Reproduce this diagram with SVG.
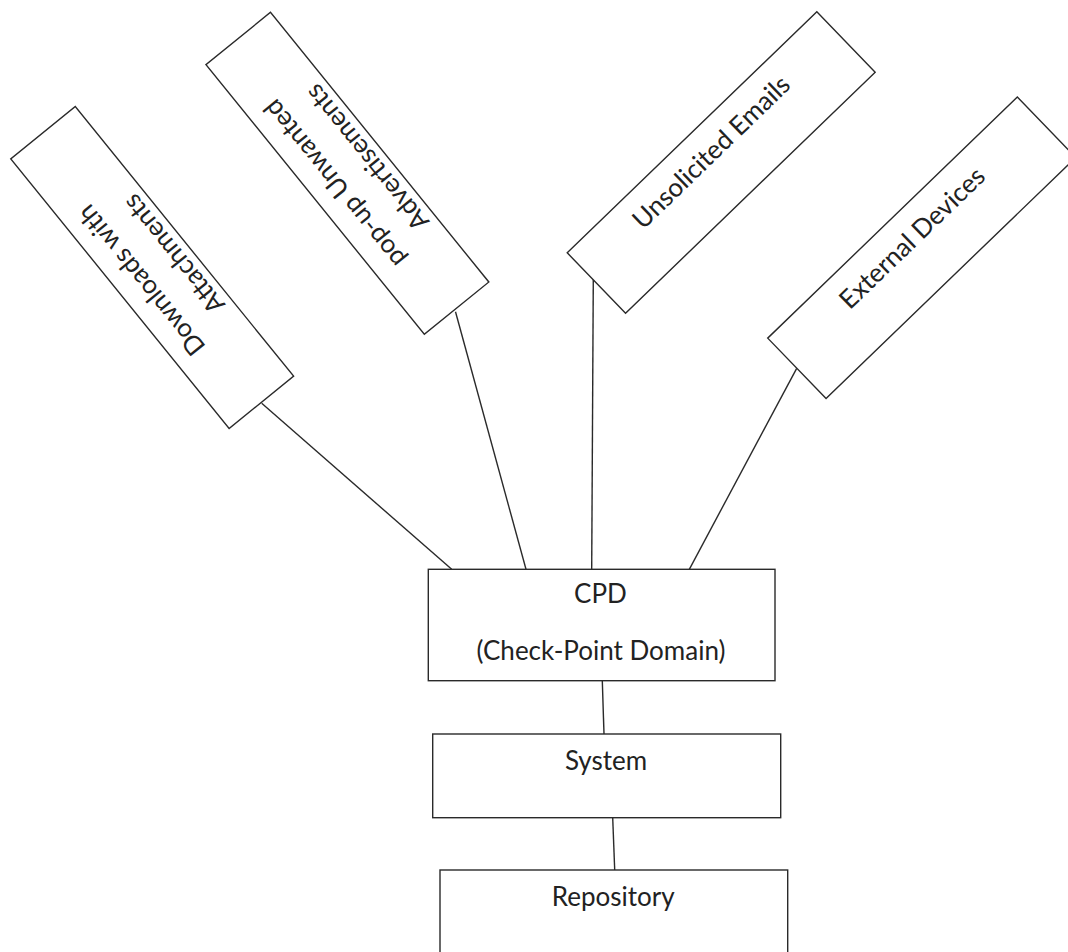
<svg xmlns="http://www.w3.org/2000/svg" width="1068" height="952" viewBox="0 0 1068 952">
<style>
  .box { fill: #ffffff; stroke: #2a2a2a; stroke-width: 1.4; }
  .conn { stroke: #2a2a2a; stroke-width: 1.4; fill: none; }
  .lbl { font-family: Lato, "Liberation Sans", sans-serif; font-size: 26px; fill: #222222; text-anchor: middle; }
</style>
<rect x="0" y="0" width="1068" height="952" fill="#ffffff"/>
<g id="connectors">
  <line class="conn" x1="261.7" y1="403.3" x2="451.7" y2="569.3"/>
  <line class="conn" x1="455.5" y1="311.7" x2="526" y2="569.3"/>
  <line class="conn" x1="593.3" y1="277.3" x2="591.7" y2="569.3"/>
  <line class="conn" x1="796.7" y1="368.3" x2="689.3" y2="569.3"/>
  <line class="conn" x1="602.3" y1="680.7" x2="604" y2="734"/>
  <line class="conn" x1="612.7" y1="817.7" x2="614.7" y2="870"/>
</g>
<g id="node-downloads">
  <rect class="box" x="-173.5" y="-41.5" width="347" height="83" transform="translate(152.2,267.5) rotate(51)"/>
  <g transform="translate(152.2,267.5) rotate(231)">
    <text class="lbl" x="-3" y="-7.6">Downloads with</text>
    <text class="lbl" x="-3" y="34">Attachments</text>
  </g>
</g>
<g id="node-popup">
  <rect class="box" x="-173.5" y="-41.5" width="347" height="83" transform="translate(347.4,173.3) rotate(51)"/>
  <g transform="translate(347.4,173.3) rotate(231)">
    <text class="lbl" x="0" y="-7.6">pop-up Unwanted</text>
    <text class="lbl" x="0" y="34">Advertisements</text>
  </g>
</g>
<g id="node-emails">
  <rect class="box" x="-173.5" y="-42" width="347" height="84" transform="translate(721.2,162.5) rotate(-44)"/>
  <text class="lbl" x="0" y="-5.4" transform="translate(721.2,162.5) rotate(-44)">Unsolicited Emails</text>
</g>
<g id="node-external">
  <rect class="box" x="-173.5" y="-42" width="347" height="84" transform="translate(921.7,247.8) rotate(-44)"/>
  <text class="lbl" x="0" y="-4.8" transform="translate(921.7,247.8) rotate(-44)">External Devices</text>
</g>
<g id="node-cpd">
  <rect class="box" x="428.3" y="569.3" width="346.7" height="111.4"/>
  <text class="lbl" x="600.5" y="602.7">CPD</text>
  <text class="lbl" x="601" y="660">(Check-Point Domain)</text>
</g>
<g id="node-system">
  <rect class="box" x="432.7" y="734" width="348" height="83.7"/>
  <text class="lbl" x="606" y="770">System</text>
</g>
<g id="node-repository">
  <rect class="box" x="440" y="870" width="347.7" height="120"/>
  <text class="lbl" x="613.3" y="905.5">Repository</text>
</g>
</svg>
